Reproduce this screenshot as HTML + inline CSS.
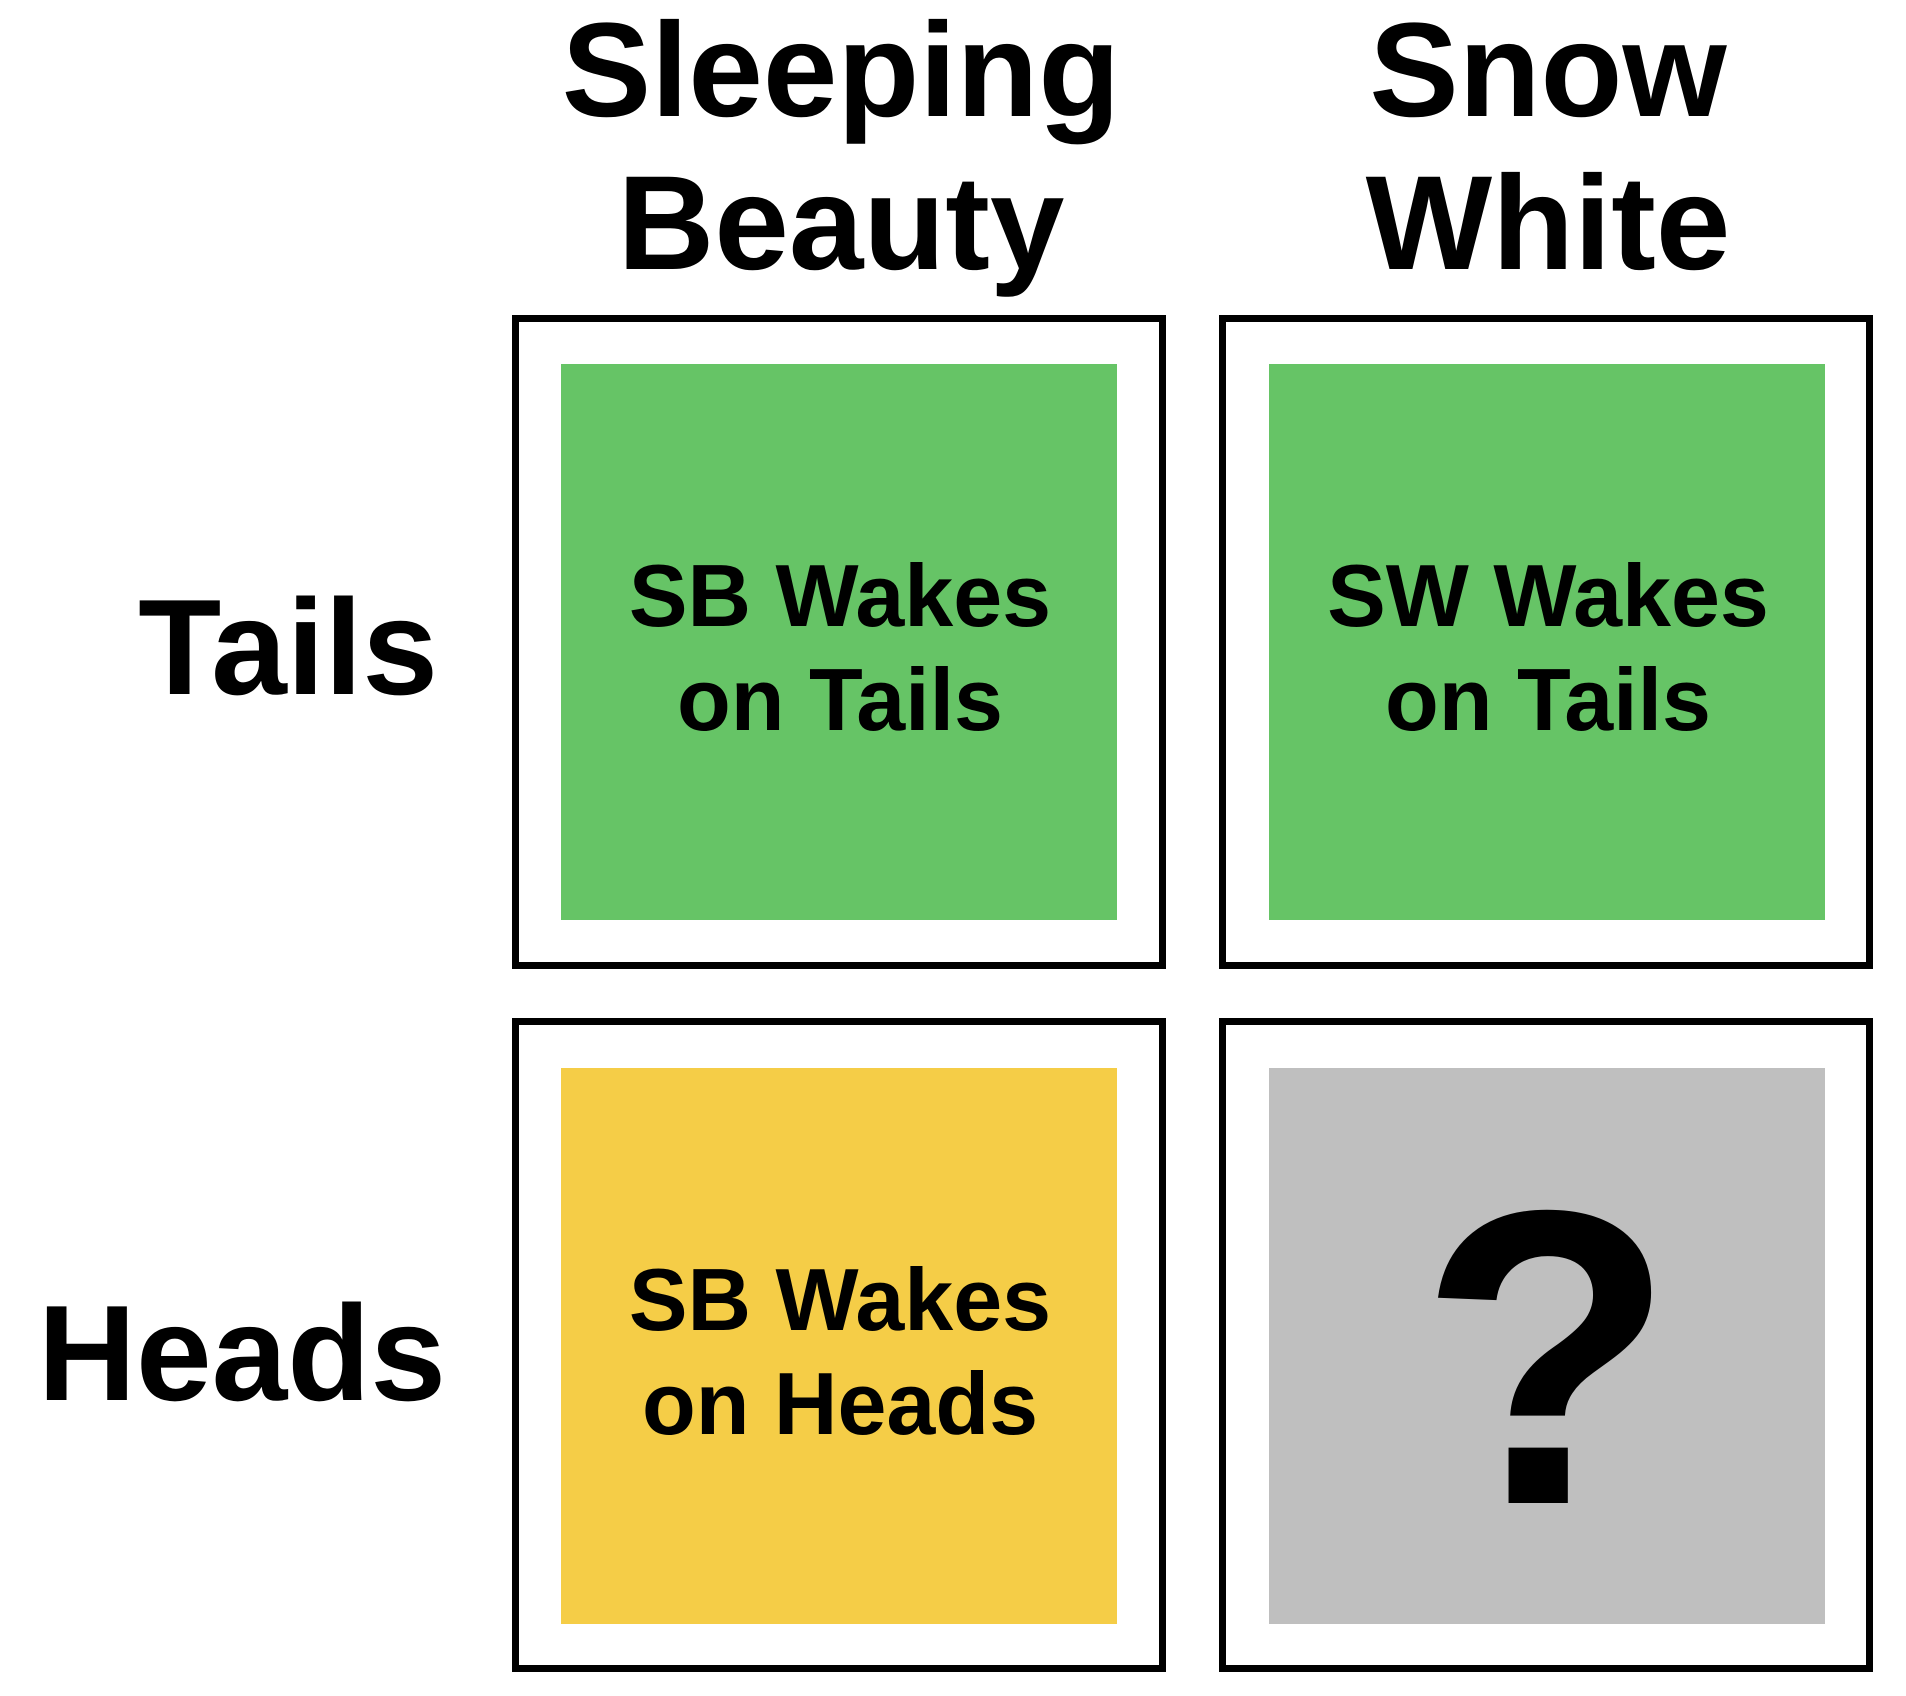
<!DOCTYPE html>
<html><head><meta charset="utf-8"><style>
html,body{margin:0;padding:0;background:#fff;}
svg{display:block;}
text{font-family:"Liberation Sans",Arial,sans-serif;font-weight:bold;fill:#000;}
</style></head><body>
<svg width="1906" height="1696" viewBox="0 0 1906 1696" xmlns="http://www.w3.org/2000/svg">
<rect width="1906" height="1696" fill="#fff"/>
<rect x="515.5" y="318.5" width="647" height="647" fill="none" stroke="#000" stroke-width="7"/>
<rect x="1222.5" y="318.5" width="647" height="647" fill="none" stroke="#000" stroke-width="7"/>
<rect x="515.5" y="1021.5" width="647" height="647" fill="none" stroke="#000" stroke-width="7"/>
<rect x="1222.5" y="1021.5" width="647" height="647" fill="none" stroke="#000" stroke-width="7"/>
<rect x="561" y="364" width="556" height="556" fill="#66c466"/>
<rect x="1269" y="364" width="556" height="556" fill="#66c466"/>
<rect x="561" y="1068" width="556" height="556" fill="#f5cd47"/>
<rect x="1269" y="1068" width="556" height="556" fill="#bfbfbf"/>
<text x="841" y="116" font-size="134" text-anchor="middle">Sleeping</text>
<text x="841" y="269" font-size="134" text-anchor="middle">Beauty</text>
<text x="1548" y="116" font-size="134" text-anchor="middle">Snow</text>
<text x="1548" y="269" font-size="134" text-anchor="middle">White</text>
<text x="438" y="694" font-size="136" text-anchor="end">Tails</text>
<text x="446" y="1400" font-size="136" text-anchor="end">Heads</text>
<text x="840" y="626" font-size="88" text-anchor="middle">SB Wakes</text>
<text x="840" y="730" font-size="88" text-anchor="middle">on Tails</text>
<text x="1548" y="626" font-size="88" text-anchor="middle">SW Wakes</text>
<text x="1548" y="730" font-size="88" text-anchor="middle">on Tails</text>
<text x="840" y="1330" font-size="88" text-anchor="middle">SB Wakes</text>
<text x="840" y="1434" font-size="88" text-anchor="middle">on Heads</text>
<text x="1547" y="1503" font-size="420" text-anchor="middle">?</text>
</svg>
</body></html>
